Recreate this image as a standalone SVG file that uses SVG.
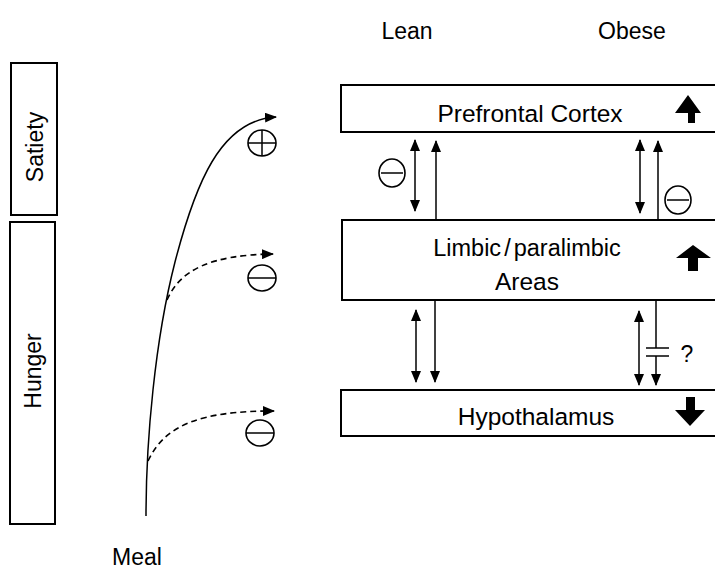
<svg xmlns="http://www.w3.org/2000/svg" width="715" height="570" viewBox="0 0 715 570">
<defs>
<marker id="ah" markerWidth="12" markerHeight="10" refX="11" refY="5" orient="auto-start-reverse" markerUnits="userSpaceOnUse">
<path d="M0,0 L12,5 L0,10 Z" fill="#000"/>
</marker>
</defs>
<style>
text{font-family:"Liberation Sans",Arial,sans-serif;fill:#000}
.box{fill:#fff;stroke:#000;stroke-width:2}
.ln{fill:none;stroke:#000;stroke-width:1.5}
.dash{fill:none;stroke:#000;stroke-width:1.6;stroke-dasharray:6,4}
.sym{fill:#fff;stroke:#000;stroke-width:1.6}
.lbl{font-size:24.5px;text-anchor:middle}
.lbl.sm{font-size:23px}
.big{fill:#000}
</style>
<rect width="715" height="570" fill="#fff"/>

<g id="satiety">
<rect class="box" x="11" y="63" width="46" height="152"/>
<text class="lbl sm" transform="translate(43,147) rotate(-90)">Satiety</text>
</g>
<g id="hunger">
<rect class="box" x="10" y="222" width="45" height="302"/>
<text class="lbl sm" transform="translate(41,371) rotate(-90)">Hunger</text>
</g>
<g id="meal">
<text x="137" y="565" class="lbl sm">Meal</text>
</g>
<g id="lean-label"><text x="407" y="39" class="lbl sm">Lean</text></g>
<g id="obese-label"><text x="632" y="39" class="lbl sm">Obese</text></g>

<g id="prefrontal">
<rect class="box" x="341" y="85" width="380" height="47"/>
<text x="530" y="122" class="lbl">Prefrontal Cortex</text>
<path class="big" d="M688,123 L688,113 L675,113 L688,95 L701,113 L695,113 L695,123 Z"/>
</g>
<g id="limbic">
<rect class="box" x="342" y="220" width="380" height="80"/>
<text x="527" y="256" class="lbl" style="font-size:23.5px;word-spacing:-3.5px">Limbic / paralimbic</text>
<text x="527" y="290" class="lbl">Areas</text>
<path class="big" d="M688,271 L688,258 L676,258 L693,245 L711,258 L698,258 L698,271 Z"/>
</g>
<g id="hypothalamus">
<rect class="box" x="341" y="390" width="380" height="46"/>
<text x="536" y="425" class="lbl">Hypothalamus</text>
<path class="big" d="M686,397 L695,397 L695,410 L705,410 L690,426 L675,410 L686,410 Z"/>
</g>

<g id="connectors">
<path class="ln" d="M146,516 C146,440 155,340 175,262 C195,185 220,120 276,117" marker-end="url(#ah)"/>
<path class="dash" d="M167,300 C180,270 210,255 273,254" marker-end="url(#ah)"/>
<path class="dash" d="M148,461 C165,425 200,411 274,411" marker-end="url(#ah)"/>

<line class="ln" x1="415" y1="140" x2="415" y2="211" marker-start="url(#ah)" marker-end="url(#ah)"/>
<line class="ln" x1="436" y1="220" x2="436" y2="141" marker-end="url(#ah)"/>
<line class="ln" x1="640" y1="140" x2="640" y2="213" marker-start="url(#ah)" marker-end="url(#ah)"/>
<line class="ln" x1="658" y1="220" x2="658" y2="141" marker-end="url(#ah)"/>

<line class="ln" x1="416" y1="310" x2="416" y2="382" marker-start="url(#ah)" marker-end="url(#ah)"/>
<line class="ln" x1="435" y1="300" x2="435" y2="382" marker-end="url(#ah)"/>
<line class="ln" x1="639" y1="311" x2="639" y2="385" marker-start="url(#ah)" marker-end="url(#ah)"/>
<line class="ln" x1="656" y1="300" x2="656" y2="348"/>
<line class="ln" x1="646" y1="348" x2="669" y2="348"/>
<line class="ln" x1="646" y1="356" x2="669" y2="356"/>
<line class="ln" x1="656" y1="356" x2="656" y2="385" marker-end="url(#ah)"/>
<text x="687" y="362" class="lbl sm">?</text>
</g>

<g id="signs">
<ellipse class="sym" cx="262" cy="143" rx="14" ry="13"/>
<line class="ln" x1="248" y1="143" x2="276" y2="143"/>
<line class="ln" x1="262" y1="130" x2="262" y2="156"/>
<ellipse class="sym" cx="262" cy="278" rx="14" ry="13"/>
<line class="ln" x1="248" y1="278" x2="276" y2="278"/>
<ellipse class="sym" cx="260" cy="433" rx="14" ry="13"/>
<line class="ln" x1="246" y1="433" x2="274" y2="433"/>
<ellipse class="sym" cx="392" cy="173" rx="13" ry="14"/>
<line class="ln" x1="381" y1="173" x2="403" y2="173"/>
<ellipse class="sym" cx="678" cy="200" rx="13" ry="14"/>
<line class="ln" x1="667" y1="200" x2="689" y2="200"/>
</g>
</svg>
